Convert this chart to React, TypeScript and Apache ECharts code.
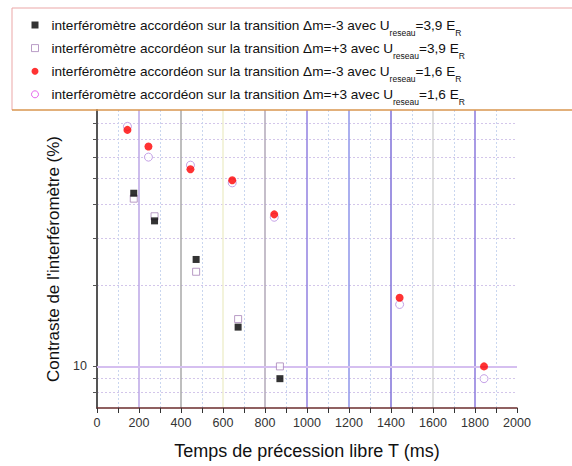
import React, { useEffect, useRef } from "react";
import * as echarts from "echarts";

// ---- data ----
const seriesNames = [
  "interféromètre accordéon sur la transition Δm=-3 avec U_reseau=3,9 E_R",
  "interféromètre accordéon sur la transition Δm=+3 avec U_reseau=3,9 E_R",
  "interféromètre accordéon sur la transition Δm=-3 avec U_reseau=1,6 E_R",
  "interféromètre accordéon sur la transition Δm=+3 avec U_reseau=1,6 E_R",
];
const xBlackSquare = [175, 274, 472, 672, 871];
const yBlackSquare = [44.1, 34.8, 25.0, 14.0, 9.0];
const xOpenSquare = [175, 274, 472, 672, 871];
const yOpenSquare = [42.1, 36.2, 22.5, 15.0, 10.0];
const xRedCircle = [145, 245, 445, 644, 844, 1441, 1843];
const yRedCircle = [75.9, 65.8, 54.2, 49.3, 36.8, 18.0, 10.0];
const xOpenCircle = [145, 245, 445, 644, 844, 1441, 1843];
const yOpenCircle = [78.2, 60.1, 56.1, 48.2, 35.9, 17.0, 9.0];

const yTickValues = [8, 9, 10, 20, 30, 40, 50, 60, 70, 80];
const yLabelValues = [10];
const yHighlightLine = 10;
const xMin = 0;
const xMax = 2000;
const xInterval = 200;
const yMin = 7;
const yMax = 90;

const xAxisTitle = "Temps de précession libre T (ms)";
const yAxisTitle = "Contraste de l'interféromètre (%)";

const FONT = "'Liberation Sans', Arial, sans-serif";

function pairs(xs: number[], ys: number[]) {
  return xs.map((x, i) => [x, ys[i]]);
}

function legendRich(name: string) {
  // name pattern: "... U_reseau=3,9 E_R"
  const m = name.match(/^(.*U)_reseau(=.* E)_R$/);
  if (!m) return name;
  return `{g|}{t|${m[1]}}{s|reseau}{t|${m[2]}}{s|R}`;
}

export default function App() {
  const ref = useRef<HTMLDivElement>(null);

  useEffect(() => {
    if (!ref.current) return;
    const chart = echarts.init(ref.current, undefined, { renderer: "svg" });

    const xSplitColors = [
      "#ffffff",
      "#bba6e6",
      "#a9a9a9",
      "#efefcf",
      "#b2a9b8",
      "#9280e0",
      "#8e95ea",
      "#7f71d8",
      "#d3d3d3",
      "#8b79dc",
      "#ffffff",
    ];

    const option: any = {
      animation: false,
      backgroundColor: "#ffffff",
      textStyle: { fontFamily: FONT },
      grid: { left: 97, right: 55, top: 110, bottom: 58, containLabel: false },
      legend: {
        orient: "vertical",
        left: 31,
        top: 12.5,
        padding: 0,
        itemGap: -1.9,
        itemWidth: 7,
        itemHeight: 7,
        selectedMode: false,
        formatter: (name: string) => legendRich(name),
        textStyle: {
          fontFamily: FONT,
          color: "#111",
          rich: {
            g: { width: 8 },
            t: { fontSize: 13.6, lineHeight: 15, color: "#111", verticalAlign: "middle", fontFamily: FONT },
            s: {
              fontSize: 8.5,
              lineHeight: 8,
              color: "#111",
              verticalAlign: "middle",
              padding: [16, 0, 0, 0],
              fontFamily: FONT,
            },
          },
        },
        data: [
          { name: seriesNames[0], icon: "rect", itemStyle: { color: "#000000" } },
          {
            name: seriesNames[1],
            icon: "rect",
            itemStyle: { color: "#ffffff", borderColor: "#a783b8", borderWidth: 1 },
          },
          { name: seriesNames[2], icon: "circle", itemStyle: { color: "#ff0000" } },
          {
            name: seriesNames[3],
            icon: "circle",
            itemStyle: { color: "#ffffff", borderColor: "#e040e8", borderWidth: 1 },
          },
        ],
      },
      xAxis: {
        type: "value",
        min: xMin,
        max: xMax,
        interval: xInterval,
        name: xAxisTitle,
        nameLocation: "middle",
        nameGap: 34,
        nameTextStyle: { fontSize: 18, color: "#111", fontFamily: FONT },
        axisLine: { show: true, onZero: false, lineStyle: { color: "#6b2d2d", width: 1.5 } },
        axisTick: { show: true, length: 5, inside: false, lineStyle: { color: "#333", width: 1 } },
        minorTick: { show: true, splitNumber: 2, length: 5, lineStyle: { color: "#333", width: 1 } },
        axisLabel: {
          fontSize: 12.5,
          color: "#333",
          margin: 8,
          fontFamily: FONT,
          formatter: (v: number) => String(v),
        },
        splitLine: { show: true, lineStyle: { color: xSplitColors, width: 1.5 } },
        minorSplitLine: { show: true, lineStyle: { color: "#c9d6ef", width: 1, type: [2, 2] } },
      },
      yAxis: {
        type: "log",
        logBase: 10,
        min: yMin,
        max: yMax,
        name: yAxisTitle,
        nameLocation: "middle",
        nameRotate: 90,
        nameGap: 33,
        nameTextStyle: { fontSize: 17, color: "#111", fontFamily: FONT },
        axisLine: { show: true, onZero: false, lineStyle: { color: "#555", width: 2 } },
        axisTick: {
          show: true,
          length: 4,
          inside: false,
          customValues: yTickValues,
          lineStyle: { color: "#555", width: 1 },
        },
        axisLabel: {
          fontSize: 12.5,
          color: "#333",
          margin: 10,
          customValues: yLabelValues,
          fontFamily: FONT,
          formatter: (v: number) => String(v),
        },
        splitLine: { show: true, lineStyle: { color: "#d3c6ea", width: 1, type: [2, 2] } },
        minorTick: { show: false },
        minorSplitLine: { show: false },
      },
      graphic: [
        {
          type: "line",
          z: 100,
          shape: { x1: 12, y1: 8, x2: 572, y2: 8 },
          style: { stroke: "#eba7a7", lineWidth: 1 },
        },
        {
          type: "line",
          z: 100,
          shape: { x1: 12, y1: 8, x2: 12, y2: 110 },
          style: { stroke: "#eba7a7", lineWidth: 1 },
        },
        {
          type: "line",
          z: 100,
          shape: { x1: 12, y1: 110, x2: 572, y2: 110 },
          style: { stroke: "#d9964f", lineWidth: 1.5 },
        },
      ],
      series: [
        {
          name: seriesNames[0],
          type: "scatter",
          z: 4,
          symbol: "rect",
          symbolSize: 7,
          itemStyle: { color: "#000000" },
          data: pairs(xBlackSquare, yBlackSquare),
          markLine: {
            silent: true,
            symbol: ["none", "none"],
            label: { show: false },
            lineStyle: { color: "#d5bff0", width: 2, type: "solid" },
            data: [{ yAxis: yHighlightLine }],
            z: 1,
          },
        },
        {
          name: seriesNames[1],
          type: "scatter",
          z: 3,
          symbol: "rect",
          symbolSize: 7,
          itemStyle: { color: "#ffffff", borderColor: "#a783b8", borderWidth: 1 },
          data: pairs(xOpenSquare, yOpenSquare),
        },
        {
          name: seriesNames[2],
          type: "scatter",
          z: 4,
          symbol: "circle",
          symbolSize: 8,
          itemStyle: { color: "#ff0000" },
          data: pairs(xRedCircle, yRedCircle),
        },
        {
          name: seriesNames[3],
          type: "scatter",
          z: 3,
          symbol: "circle",
          symbolSize: 8,
          itemStyle: { color: "#ffffff", borderColor: "#b58ae0", borderWidth: 1 },
          data: pairs(xOpenCircle, yOpenCircle),
        },
      ],
    };

    chart.setOption(option);
    return () => chart.dispose();
  }, []);

  return (
    <div
      ref={ref}
      style={{ position: "fixed", left: 0, top: 0, width: 572, height: 466, background: "#fff" }}
    />
  );
}
